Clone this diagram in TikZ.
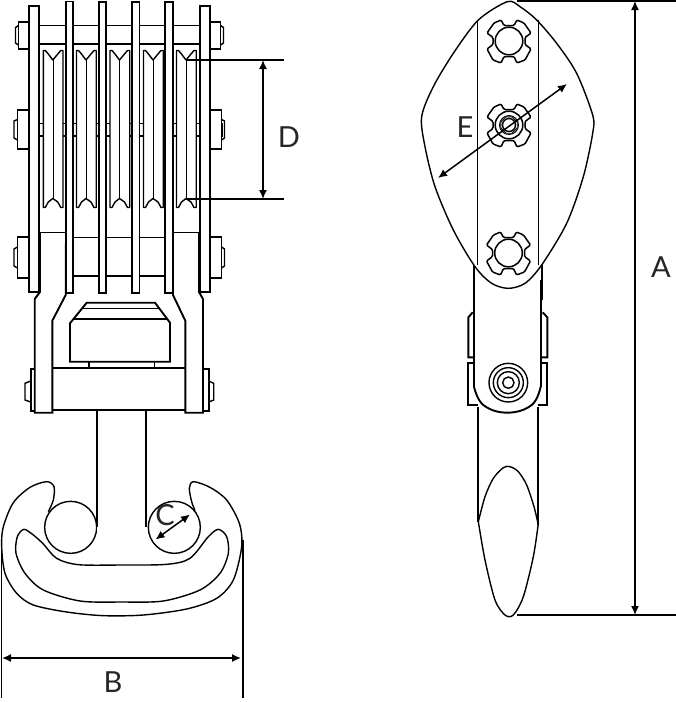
\documentclass[tikz,border=0pt]{standalone}
\usepackage{fontspec}
\setmainfont{Lato}
\usetikzlibrary{arrows.meta}
\tikzset{
  x=1pt,y=-1pt,
  heavy/.style={line width=1.9pt,line join=miter,black},
  medium/.style={line width=1.4pt,black},
  thin line/.style={line width=0.9pt,black},
  plate/.style={heavy,fill=white},
  dimension/.style={line width=1.5pt,black,{Latex[length=9pt,width=8pt]}-{Latex[length=9pt,width=8pt]}},
  extension/.style={line width=1.7pt,black},
  letter/.style={font=\fontsize{29}{29}\selectfont,inner sep=0pt,text=black!85},
  fittingring/.style={line width=1.5pt,black}
}
\newcommand{\sheave}[1]{%
  \begin{scope}[shift={(#1,0)}]
    \draw[medium,fill=white,line join=round] (0,50.5) -- (2,50.5) -- (5,54) -- (9.5,60) -- (14.5,54) -- (17.5,50.5) -- (19.7,50.5)
      -- (19.7,207.5) -- (17.5,207.5) -- (14.5,202) -- (9.5,198.5) -- (5,202) -- (2,207.5) -- (0,207.5) -- cycle;
    \draw[thin line] (9.7,60) -- (9.7,198.5);
  \end{scope}}
\newcommand{\fitting}[2]{%
  \begin{scope}[shift={(#1,#2)}]
    \draw[fittingring,fill=white,rounded corners=1.2pt] (-5,-15.5) -- (5,-15.5) -- (8,-21) -- (15,-18) -- (22,-8) -- (16,-3.5) -- (16,3.5)
      -- (22,8) -- (16,19) -- (8,22) -- (5,15.5) -- (-5,15.5) -- (-8,22) -- (-16,19) -- (-22,8) -- (-16,3.5) -- (-16,-3.5)
      -- (-22,-8) -- (-15,-18) -- (-8,-21) -- cycle;
    \draw[fittingring] (0,0) circle (13.8);
  \end{scope}}
\begin{document}
\begin{tikzpicture}
\useasboundingbox (0,0) rectangle (676,702);
\fill[white] (0,0) rectangle (676,702);

% ---- left view: top and middle axles
\draw[heavy] (38,25.5) rectangle (200,44);
\draw[heavy] (38,123.5) rectangle (222,136);
\foreach \sx in {43.3,76.5,110,143.5,176.5}{\sheave{\sx}}

% bolts (left and right)
\draw[heavy,fill=white] (29,22) -- (18.5,22) -- (18.5,49) -- (29,49);
\draw[medium] (18.5,25.5) -- (15.5,27.5) -- (15.5,43) -- (18.5,45);
\draw[heavy,fill=white] (210,22) -- (220.5,22) -- (220.5,49) -- (210,49);
\draw[medium] (220.5,25.5) -- (223.5,27.5) -- (223.5,43) -- (220.5,45);
\draw[heavy,fill=white] (29,110) -- (17.5,110) -- (17.5,149) -- (29,149);
\draw[medium] (17.5,119.5) -- (14,121) -- (14,138) -- (17.5,140);
\draw[heavy,fill=white] (210,110) -- (221.5,110) -- (221.5,149) -- (210,149);
\draw[medium] (221.5,119.5) -- (224.5,121) -- (224.5,138) -- (221.5,140);
\draw[heavy,fill=white] (29,237) -- (17.5,237) -- (17.5,278) -- (29,278);
\draw[medium] (17.5,247) -- (14,249) -- (14,266) -- (17.5,268);
\draw[heavy,fill=white] (210,237) -- (221.5,237) -- (221.5,278) -- (210,278);
\draw[medium] (221.5,247) -- (224.5,249) -- (224.5,266) -- (221.5,268);

% lower spacer
\draw[heavy] (40,233) -- (66,233);
\draw[heavy] (173,233) -- (199,233);
\draw[heavy] (73,237.5) -- (165,237.5);
\draw[heavy] (73,275.7) -- (165,275.7);

% yoke
\draw[heavy,fill=white] (40,233) -- (40,292) -- (34.7,299) -- (34.7,412.7) -- (52.3,412.7) -- (52.3,320.7) -- (65.7,295) -- (66,233);
\draw[heavy,fill=white] (199,233) -- (199,292) -- (203,299) -- (203,412.7) -- (185.3,412.7) -- (185.3,320.7) -- (173,295) -- (173,233);
\draw[heavy] (52.3,367.7) -- (185.3,367.7);
\draw[heavy] (52.3,410) -- (185.3,410);

% plates
\draw[plate] (29,6) rectangle (39,292);
\draw[plate] (200,6) rectangle (210,292);
\draw[plate] (66,1.5) rectangle (73,293);
\draw[plate] (99,2) rectangle (106,293);
\draw[plate] (132,2) rectangle (139.5,293);
\draw[plate] (165,2) rectangle (173,293);

% swivel
\draw[heavy,fill=white] (70,361.7) -- (70,323.3) -- (86.7,302.7) -- (155,302.7) -- (170,322.7) -- (170,361.7) -- cycle;
\draw[medium] (81.7,308.3) -- (159.3,308.3);
\draw[heavy] (72.7,319.3) -- (167.3,319.3);
\draw[medium] (89,361.7) -- (89,367.7);
\draw[medium] (154.3,361.7) -- (154.3,367.7);

% nuts
\draw[heavy] (34.7,369.3) -- (30.7,369.3) -- (30.7,410.7) -- (34.7,410.7);
\draw[medium] (30.7,381) -- (25,383.3) -- (25,400) -- (30.7,402);
\draw[heavy] (203,369.3) -- (208.7,369.3) -- (208.7,410.7) -- (203,410.7);
\draw[medium] (208.7,381) -- (213.7,383.3) -- (213.7,400) -- (208.7,402);

% ---- hook
\begin{scope}[shift={(0,430)},scale=1/3]
  \draw[medium,line join=round] plot[smooth,tension=0.5] coordinates {
    (145,245) (160,210) (162,170) (140,155) (90,172) (40,218) (10,290) (5,350) (15,430) (50,490) (100,525) (200,546)
    (310,557) (430,555) (560,537) (650,505) (700,450) (725,350) (718,280) (680,210) (630,172) (580,155) (568,175) (575,215) (585,242)};
  \draw[medium] plot[smooth cycle,tension=0.5] coordinates {
    (130,342) (170,385) (235,404) (365,405) (500,403) (570,385) (625,320) (655,298) (680,320) (685,370) (660,430) (600,480) (490,513)
    (365,516) (240,513) (130,480) (75,430) (48,370) (52,320) (72,298) (100,315)};
  \draw[medium,fill=white] (212,292) circle (78);
  \draw[medium,fill=white] (523,292) circle (78);
  \fill[white] (292,0) rectangle (437,400);
\end{scope}
\draw[heavy] (96.7,410) -- (96.7,527);
\draw[heavy] (145.7,410) -- (145.7,527);

% ---- right view: plate
\begin{scope}[shift={(410,0)},scale=1/3]
  \draw[heavy] (191,790) -- (191,900);
  \draw[heavy] (395,790) -- (395,900);
  \draw[medium,fill=white] plot[smooth cycle,tension=0.5] coordinates {
    (292,5) (205,60) (130,160) (70,260) (35,350) (45,440) (75,560) (130,690) (195,800) (245,850) (295,865) (345,850)
    (395,795) (470,670) (520,530) (548,400) (548,345) (500,220) (440,130) (380,60) (330,20)};
  \draw[thin line] (203,60) -- (203,795);
  \draw[thin line] (386,60) -- (386,795);
\end{scope}
\fitting{509}{41}
\fitting{509}{125}
\fitting{508.5}{253}
\draw[thin line] (500.8,122) -- (506,116.8) -- (512,116.8) -- (517.2,122) -- (517.2,128) -- (512,133.2) -- (506,133.2) -- (500.8,128) -- cycle;
\draw[thin line] (509,125) circle (9.5);
\draw[medium] (509,125) circle (6.5);

% ---- right view: stem
\begin{scope}[shift={(450,280)},scale=1/3]
  \draw[heavy] (72,0) -- (72,320);
  \draw[heavy] (272,0) -- (272,320);
  \draw[heavy] (68,97) -- (55,112) -- (55,232) -- (72,232);
  \draw[heavy] (278,97) -- (292,112) -- (292,232) -- (272,232);
  \draw[heavy] (72,250) -- (55,250) -- (55,375) -- (85,375);
  \draw[heavy] (272,250) -- (292,250) -- (292,375) -- (263,375);
  \draw[heavy] plot[smooth,tension=0.7] coordinates {(72,320) (100,375) (172,398) (245,375) (272,320)};
  \foreach \r in {58,45,33,17}{\draw[medium] (175,308) circle (\r);}
\end{scope}
\begin{scope}[shift={(460,400)},scale=1/3]
  \draw[heavy] (53,20) -- (53,365);
  \draw[heavy] (235,20) -- (235,375);
  \draw[medium] plot[smooth,tension=0.5] coordinates {(55,365) (75,480) (105,600) (135,645) (160,645) (190,590) (220,470) (235,370)};
  \draw[medium] plot[smooth,tension=0.5] coordinates {(55,365) (75,290) (100,235) (130,203) (150,200) (175,215) (200,255) (222,320) (235,375)};
\end{scope}

% ---- dimension lines
\coordinate (dTopL) at (186,60);   \coordinate (dTopR) at (284,60);
\coordinate (dBotL) at (186,199);  \coordinate (dBotR) at (284,199);
\coordinate (dA) at (263,60);      \coordinate (dB) at (263,199);
\draw[extension] (dTopL) -- (dTopR);
\draw[extension] (dBotL) -- (dBotR);
\draw[dimension] (dA) -- (dB);
\node[letter] (labelD) at (289,137) {D};

\coordinate (bL1) at (1.5,540);  \coordinate (bL2) at (1.5,698);
\coordinate (bR1) at (242.7,540);\coordinate (bR2) at (242.7,698);
\draw[extension] (bL1) -- (bL2);
\draw[extension] (bR1) -- (bR2);
\coordinate (bA) at (2,658); \coordinate (bB) at (241,658);
\draw[dimension] (bA) -- (bB);
\node[letter] (labelB) at (113,682) {B};

\coordinate (cA) at (155.5,539.5); \coordinate (cB) at (190,514.5);
\draw[dimension] (cA) -- (cB);
\node[letter] (labelC) at (165,515) {C};

\coordinate (aTopL) at (517,1); \coordinate (aTopR) at (676,1);
\coordinate (aBotL) at (517,615); \coordinate (aBotR) at (676,615);
\draw[extension] (aTopL) -- (aTopR);
\draw[extension] (aBotL) -- (aBotR);
\coordinate (aA) at (635,1); \coordinate (aB) at (635,615);
\draw[dimension] (aA) -- (aB);
\node[letter] (labelA) at (661,267) {A};

\coordinate (eA) at (438,178); \coordinate (eB) at (567,84);
\draw[dimension] (eA) -- (eB);
\node[letter] (labelE) at (465,127) {E};
\end{tikzpicture}
\end{document}
